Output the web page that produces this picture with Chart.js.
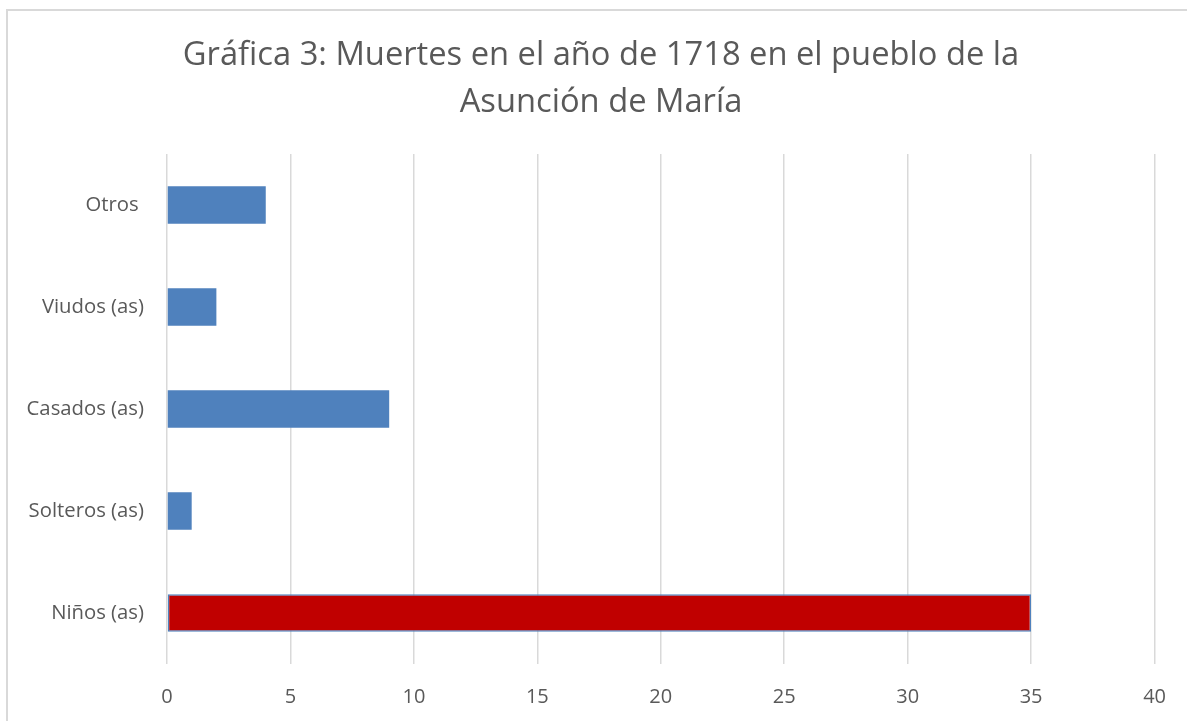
<!DOCTYPE html>
<html>
<head>
<meta charset="utf-8">
<script src="https://cdn.jsdelivr.net/npm/chart.js@4"></script>
<style>
  html, body { margin: 0; padding: 0; background: #fff; overflow: hidden; }
  canvas { display: block; }
</style>
</head>
<body>
<canvas id="c" width="1187" height="721"></canvas>
<script>
const titleLines = ['Gráfica 3: Muertes en el año de 1718 en el pueblo de la', 'Asunción de María'];
const categories = ['Otros ', 'Viudos (as)', 'Casados (as)', 'Solteros (as)', 'Niños (as)'];
const deaths = [4, 2, 9, 1, 35];
const xTicks = [0, 5, 10, 15, 20, 25, 30, 35, 40];

const BLUE = '#4F81BD', RED = '#C00000', TEXT = '#595959', GRID = '#d9d9d9';
const FONT = '"Open Sans"';

const framePlugin = {
  id: 'frame',
  beforeDraw(chart) {
    const ctx = chart.ctx;
    ctx.save();
    ctx.strokeStyle = '#d9d9d9';
    ctx.lineWidth = 2;
    ctx.beginPath();
    ctx.moveTo(7, chart.height);
    ctx.lineTo(7, 10);
    ctx.lineTo(chart.width, 10);
    ctx.stroke();
    ctx.restore();
  }
};

const titlePlugin = {
  id: 'centeredTitle',
  afterDraw(chart) {
    const ctx = chart.ctx;
    ctx.save();
    ctx.fillStyle = TEXT;
    ctx.font = '32.7px ' + FONT;
    ctx.textAlign = 'center';
    ctx.textBaseline = 'middle';
    titleLines.forEach((t, i) => ctx.fillText(t, 601, 56 + i * 47));
    ctx.restore();
  }
};

new Chart(document.getElementById('c'), {
  type: 'bar',
  data: {
    labels: categories,
    datasets: [{
      data: deaths,
      backgroundColor: categories.map((_, i) => i === categories.length - 1 ? RED : BLUE),
      borderColor: BLUE,
      borderWidth: categories.map((_, i) => i === categories.length - 1 ? 1.5 : 0),
      borderSkipped: false,
      categoryPercentage: 1,
      barPercentage: 0.37
    }]
  },
  plugins: [framePlugin, titlePlugin],
  options: {
    indexAxis: 'y',
    responsive: false,
    animation: false,
    layout: { padding: { left: 0, right: 31, top: 154, bottom: 0 } },
    plugins: {
      legend: { display: false },
      tooltip: { enabled: false },
      title: { display: false }
    },
    scales: {
      x: {
        min: 0, max: 40,
        afterBuildTicks: (s) => { s.ticks = xTicks.map(v => ({ value: v })); },
        afterFit: (s) => { s.height = 57; },
        grid: { color: GRID, lineWidth: 1.5, drawTicks: false },
        border: { display: false },
        ticks: { color: TEXT, padding: 21, font: { family: FONT, size: 20 } }
      },
      y: {
        afterFit: (s) => { s.width = 167; },
        grid: { display: false, drawTicks: false },
        border: { display: false },
        ticks: { color: TEXT, padding: 23, font: { family: FONT, size: 20.3 } }
      }
    }
  }
});
</script>
</body>
</html>
